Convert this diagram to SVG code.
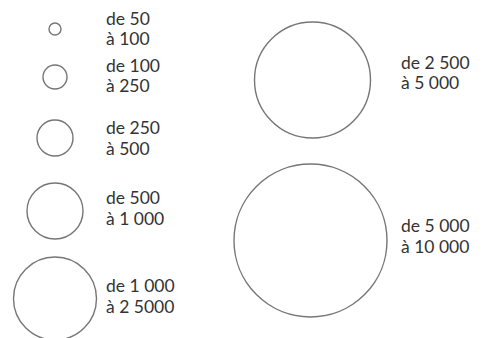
<svg xmlns="http://www.w3.org/2000/svg" width="491" height="338" viewBox="0 0 491 338">
<style>
.c{fill:none;stroke:#767676;stroke-width:1.4}
.t{font-family:"Lato","Liberation Sans",sans-serif;font-size:17.5px;fill:#333333}
</style>
<rect width="491" height="338" fill="#ffffff"/>
<g id="n1"><circle class="c" cx="55" cy="29" r="6"/><text class="t"><tspan x="106" y="25">de 50</tspan><tspan x="106" y="45">à 100</tspan></text></g>
<g id="n2"><circle class="c" cx="55" cy="77" r="12"/><text class="t"><tspan x="106" y="72">de 100</tspan><tspan x="106" y="92">à 250</tspan></text></g>
<g id="n3"><circle class="c" cx="55" cy="138" r="18"/><text class="t"><tspan x="106" y="134">de 250</tspan><tspan x="106" y="155">à 500</tspan></text></g>
<g id="n4"><circle class="c" cx="55" cy="211" r="28"/><text class="t"><tspan x="106" y="204">de 500</tspan><tspan x="106" y="225">à 1 000</tspan></text></g>
<g id="n5"><circle class="c" cx="55" cy="298.5" r="41.5"/><text class="t"><tspan x="106" y="292">de 1 000</tspan><tspan x="106" y="313">à 2 5000</tspan></text></g>
<g id="n6"><circle class="c" cx="312.5" cy="80" r="58"/><text class="t"><tspan x="401" y="69">de 2 500</tspan><tspan x="401" y="89">à 5 000</tspan></text></g>
<g id="n7"><circle class="c" cx="310.5" cy="240.5" r="76.5"/><text class="t"><tspan x="401" y="232">de 5 000</tspan><tspan x="401" y="253">à 10 000</tspan></text></g>
</svg>
